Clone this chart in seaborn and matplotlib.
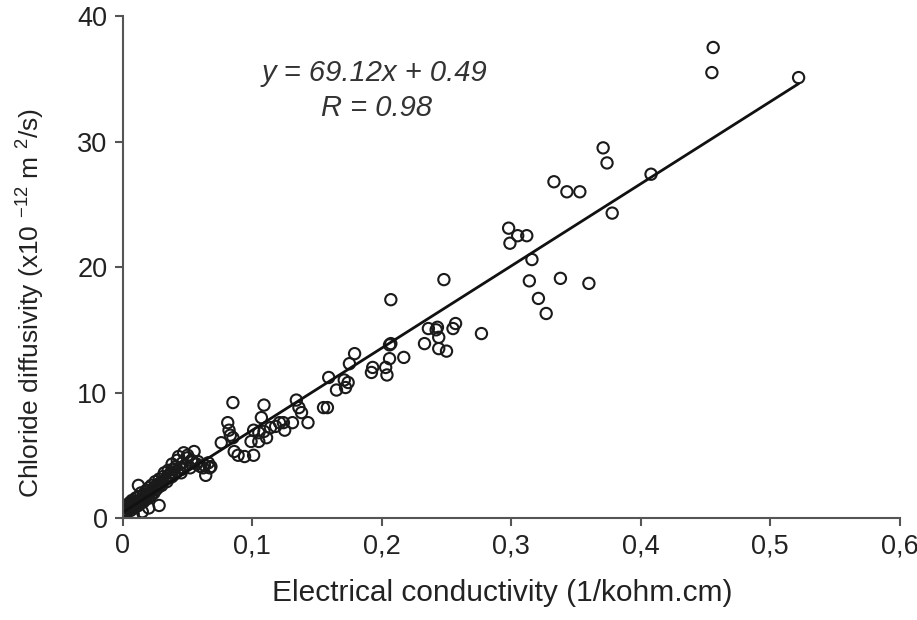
import pandas as pd
import matplotlib
matplotlib.use("Agg")
import matplotlib.pyplot as plt
import seaborn as sns

# upper / sparse points
x_hi = [0.456, 0.455, 0.522, 0.408, 0.371, 0.374, 0.378, 0.333, 0.343, 0.353,
        0.298, 0.305, 0.312, 0.299, 0.316, 0.314, 0.338, 0.360, 0.321, 0.327,
        0.248, 0.207, 0.277]
y_hi = [37.5, 35.5, 35.1, 27.4, 29.5, 28.3, 24.3, 26.8, 26.0, 26.0,
        23.1, 22.5, 22.5, 21.9, 20.6, 18.9, 19.1, 18.7, 17.5, 16.3,
        19.0, 17.4, 14.7]

# middle points
x_mid = [0.236, 0.243, 0.257, 0.255, 0.244, 0.244, 0.250, 0.233, 0.242,
         0.206, 0.207, 0.217, 0.206, 0.203, 0.204, 0.193, 0.192, 0.179, 0.175,
         0.171, 0.174, 0.165, 0.172, 0.159,
         0.085, 0.109, 0.134, 0.136, 0.138, 0.155, 0.158, 0.107, 0.121, 0.124,
         0.131, 0.143, 0.081, 0.082, 0.083, 0.101, 0.105, 0.109, 0.114, 0.118,
         0.125, 0.076, 0.085, 0.099, 0.105, 0.111, 0.086, 0.089, 0.094, 0.101,
         0.063, 0.067]
y_mid = [15.1, 15.2, 15.5, 15.1, 14.4, 13.5, 13.3, 13.9, 15.0,
         13.8, 13.9, 12.8, 12.7, 12.0, 11.4, 12.0, 11.6, 13.1, 12.3,
         11.0, 10.8, 10.2, 10.4, 11.2,
         9.2, 9.0, 9.4, 8.8, 8.4, 8.8, 8.8, 8.0, 7.6, 7.6,
         7.6, 7.6, 7.6, 7.0, 6.6, 7.0, 6.8, 6.9, 7.2, 7.3,
         7.0, 6.0, 6.4, 6.1, 6.1, 6.4, 5.3, 5.0, 4.9, 5.0,
         4.2, 4.0]

# dense cluster near the origin
x_lo = [0.001, 0.002, 0.003, 0.003, 0.004, 0.005, 0.005, 0.006, 0.006, 0.007,
        0.007, 0.008, 0.008, 0.009, 0.010, 0.010, 0.011, 0.012, 0.012, 0.013,
        0.014, 0.014, 0.015, 0.016, 0.016, 0.017, 0.018, 0.018, 0.019, 0.020,
        0.020, 0.021, 0.022, 0.022, 0.023, 0.024, 0.025, 0.025, 0.026, 0.027,
        0.028, 0.028, 0.029, 0.030, 0.031, 0.031, 0.032, 0.033, 0.034, 0.035,
        0.035, 0.036, 0.037, 0.038, 0.039, 0.040, 0.041, 0.042, 0.043, 0.044,
        0.045, 0.046, 0.047, 0.048, 0.050, 0.052, 0.053, 0.055, 0.057, 0.058,
        0.060, 0.062, 0.064, 0.066, 0.068, 0.020, 0.028, 0.012, 0.008, 0.015,
        0.038, 0.042, 0.046, 0.050, 0.054]
y_lo = [0.4, 0.6, 0.5, 1.0, 0.7, 0.8, 1.2, 0.6, 1.1, 0.9,
        1.4, 0.8, 1.3, 1.1, 0.9, 1.6, 1.2, 1.0, 1.7, 1.4,
        1.2, 2.0, 1.5, 1.3, 1.9, 1.7, 1.5, 2.2, 1.9, 1.6,
        2.4, 2.0, 1.8, 2.6, 2.3, 2.0, 2.5, 2.9, 2.3, 2.7,
        2.5, 3.1, 2.8, 2.6, 3.3, 2.9, 3.6, 3.1, 2.9, 3.4,
        3.8, 3.2, 3.6, 3.3, 3.9, 3.5, 4.1, 3.7, 4.9, 4.0,
        3.6, 4.4, 5.2, 4.2, 4.8, 4.0, 4.6, 5.3, 4.3, 4.5,
        4.1, 4.0, 3.4, 4.4, 4.1, 0.8, 1.0, 2.6, 0.3, 0.5,
        4.3, 4.6, 3.9, 5.0, 4.5]

df = pd.DataFrame({
    "conductivity": x_hi + x_mid + x_lo,
    "diffusivity": y_hi + y_mid + y_lo,
})

xticks = [0, 0.1, 0.2, 0.3, 0.4, 0.5, 0.6]
xtick_labels = ["0", "0,1", "0,2", "0,3", "0,4", "0,5", "0,6"]
yticks = [0, 10, 20, 30, 40]

sns.set_style("ticks")
plt.rcParams["font.family"] = ["Liberation Sans", "DejaVu Sans"]
plt.rcParams["mathtext.fontset"] = "custom"
plt.rcParams["mathtext.rm"] = "Liberation Sans"
plt.rcParams["mathtext.it"] = "Liberation Sans:italic"

fig = plt.figure(figsize=(9.17, 6.2), dpi=100)
ax = fig.add_axes([0.134, 0.1645, 0.847, 0.8095])

sns.scatterplot(data=df, x="conductivity", y="diffusivity", ax=ax,
                marker="o", s=66, facecolor="none", edgecolor="#1a1a1a",
                linewidth=1.5)
sns.regplot(data=df, x="conductivity", y="diffusivity", ax=ax, scatter=False,
            ci=None, truncate=True, line_kws={"color": "#111111", "linewidth": 2.0})

ax.set_xlim(0, 0.6)
ax.set_ylim(0, 40)
ax.set_xticks(xticks)
ax.set_xticklabels(xtick_labels)
ax.set_yticks(yticks)
ax.tick_params(axis="both", direction="out", length=6, width=1.5,
               color="#555555", labelsize=19.5, labelcolor="#222222", pad=5)
for side in ["left", "bottom"]:
    ax.spines[side].set_color("#555555")
    ax.spines[side].set_linewidth(1.5)
sns.despine(ax=ax)

ax.set_xlabel("Electrical conductivity (1/kohm.cm)", fontsize=21.5,
              color="#222222")
ax.xaxis.set_label_coords(0.488, -0.122)
ax.set_ylabel(r"Chloride diffusivity (x10 $^{-12}$ m $^{2}$/s)", fontsize=19,
              color="#222222")
ax.yaxis.set_label_coords(-0.098, 0.428)

ax.text(0.324, 0.886, "y = 69.12x + 0.49", transform=ax.transAxes,
        ha="center", va="center", fontsize=21, style="italic", color="#333333")
ax.text(0.326, 0.817, "R = 0.98", transform=ax.transAxes,
        ha="center", va="center", fontsize=21, style="italic", color="#333333")

fig.savefig("out.png", dpi=100)
